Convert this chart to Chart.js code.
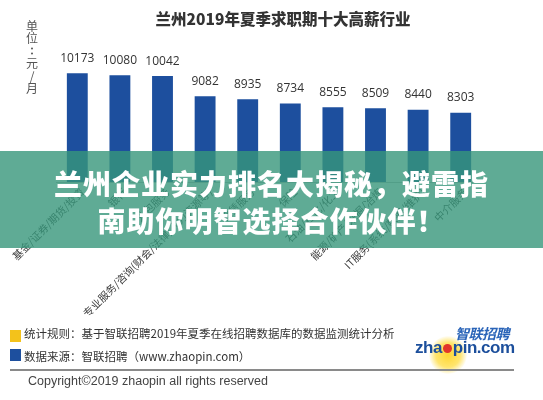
<!DOCTYPE html>
<html>
<head>
<meta charset="utf-8">
<script src="https://cdn.jsdelivr.net/npm/chart.js@4"></script>
<style>
  html, body { margin: 0; padding: 0; background: #fff; }
  #wrap { position: relative; width: 543px; height: 400px; overflow: hidden; background: #fff; font-family: "Noto Sans CJK SC", sans-serif; }
  #c { position: absolute; left: 0; top: 0; }
  #banner {
    position: absolute; left: 0; top: 151px; width: 543px; height: 97px;
    background: rgba(55,150,122,0.80);
    color: #fff; font-weight: 900; font-size: 28px; line-height: 37px;
    text-align: center; letter-spacing: 1px; box-sizing: border-box; padding-top: 14px;
  }
  .sq { position: absolute; width: 11px; height: 12px; }
  .note { position: absolute; font-size: 11.5px; color: #333; white-space: nowrap; line-height: 14px; }
  #rule { position: absolute; left: 10px; top: 369px; width: 504px; height: 2px; background: #8a8a8a; }
  #copy { position: absolute; left: 28px; top: 374px; font-family: "Liberation Sans", Arial, sans-serif; font-size: 12.5px; color: #444; white-space: nowrap; }
  #glow { position: absolute; left: 429px; top: 336px; width: 38px; height: 38px; border-radius: 50%;
    background: radial-gradient(circle, rgba(255,212,40,0.95) 0%, rgba(255,220,60,0.75) 45%, rgba(255,235,120,0) 72%); }
  #logo1 { position: absolute; left: 455px; top: 323px; font-size: 14px; font-weight: 700; font-style: italic; color: #2a64b8; letter-spacing: -0.5px; white-space: nowrap; }
  #logo2 { position: absolute; left: 415px; top: 338px; font-family: "Liberation Sans", Arial, sans-serif; font-size: 17px; font-weight: 700; color: #1c4f9c; white-space: nowrap; letter-spacing: -0.5px; }
  #logo2 .dot { display: inline-block; width: 9px; height: 9px; border-radius: 50%; background: #e2352b; margin: 0 1px; }
</style>
</head>
<body>
<div id="wrap">
  <canvas id="c" width="543" height="400"></canvas>
  <div id="banner">兰州企业实力排名大揭秘，避雷指<br>南助你明智选择合作伙伴！</div>
  <div class="sq" style="left:10px;top:330px;background:#f3c21b;"></div>
  <div class="note" style="left:24px;top:326px;">统计规则：基于智联招聘2019年夏季在线招聘数据库的数据监测统计分析</div>
  <div class="sq" style="left:10px;top:349px;background:#1d4f9e;"></div>
  <div class="note" style="left:24px;top:349px;">数据来源：智联招聘（www.zhaopin.com）</div>
  <div id="glow"></div>
  <div id="logo1">智联招聘</div>
  <div id="logo2">zha<span class="dot"></span>pin.com</div>
  <div id="rule"></div>
  <div id="copy">Copyright©2019 zhaopin all rights reserved</div>
</div>
<script>
// Top ten industries by average monthly salary offered (Lanzhou, summer 2019)
const industries = [
  "基金/证券/期货/投资",
  "银行",
  "外包服务",
  "专业服务/咨询(财会/法律/人力资源等)",
  "租赁服务",
  "保险",
  "石油/石化/化工",
  "能源/矿产/采掘/冶炼",
  "IT服务(系统/数据/维护)",
  "中介服务"
];
const salaries = [10173, 10080, 10042, 9082, 8935, 8734, 8555, 8509, 8440, 8303];
const chartTitle = "兰州2019年夏季求职期十大高薪行业";
const unitLabel = ["单", "位", "：", "元", "/", "月"];

const BAR_COLOR = "#1d4f9e";

// Title, vertical unit text, value labels above bars, rotated category labels
const decorations = {
  id: "decorations",
  afterDraw(chart) {
    const ctx = chart.ctx;
    const xs = chart.scales.x;
    const meta = chart.getDatasetMeta(0);
    ctx.save();

    // title
    ctx.fillStyle = "#333";
    ctx.font = "900 15.5px 'Noto Sans CJK SC'";
    ctx.textAlign = "center";
    ctx.textBaseline = "middle";
    ctx.fillText(chartTitle, 283, 19);

    // unit, written top to bottom
    ctx.fillStyle = "#555";
    ctx.font = "12px 'Noto Sans CJK SC'";
    unitLabel.forEach((ch, i) => {
      const cy = 26 + i * 12.5;
      if (ch === "：") {
        ctx.beginPath();
        ctx.arc(32, cy - 2.5, 1, 0, Math.PI * 2);
        ctx.arc(32, cy + 2.5, 1, 0, Math.PI * 2);
        ctx.fill();
      } else {
        ctx.fillText(ch, 32, cy);
      }
    });

    // value labels
    ctx.fillStyle = "#333";
    ctx.font = "12px 'Open Sans'";
    ctx.textBaseline = "alphabetic";
    meta.data.forEach((bar, i) => {
      ctx.fillText(String(salaries[i]), bar.x, bar.y - 11.5);
    });

    // category labels, 45 degrees
    ctx.fillStyle = "#3a3a3a";
    ctx.font = "10.5px 'Noto Sans CJK SC'";
    ctx.textAlign = "right";
    ctx.textBaseline = "middle";
    const baseY = chart.chartArea.bottom + 8;
    industries.forEach((name, i) => {
      const x = xs.getPixelForValue(i) + 5;
      ctx.save();
      ctx.translate(x, baseY);
      ctx.rotate(-Math.PI / 4);
      ctx.fillText(name, 0, 0);
      ctx.restore();
    });

    ctx.restore();
  }
};

new Chart(document.getElementById("c"), {
  type: "bar",
  data: {
    labels: industries,
    datasets: [{
      data: salaries,
      backgroundColor: BAR_COLOR,
      borderWidth: 0,
      barPercentage: 0.49,
      categoryPercentage: 1.0
    }]
  },
  options: {
    responsive: false,
    animation: false,
    devicePixelRatio: 1,
    layout: { padding: { left: 56, right: 61, top: 35, bottom: 218 } },
    plugins: { legend: { display: false }, tooltip: { enabled: false }, title: { display: false } },
    scales: {
      x: {
        display: true,
        grid: { display: false, drawTicks: false },
        border: { display: true, color: "#bdbdbd", width: 1 },
        ticks: { display: false }
      },
      y: {
        display: false,
        min: 5000,
        max: 12000
      }
    }
  },
  plugins: [decorations]
});
</script>
</body>
</html>
